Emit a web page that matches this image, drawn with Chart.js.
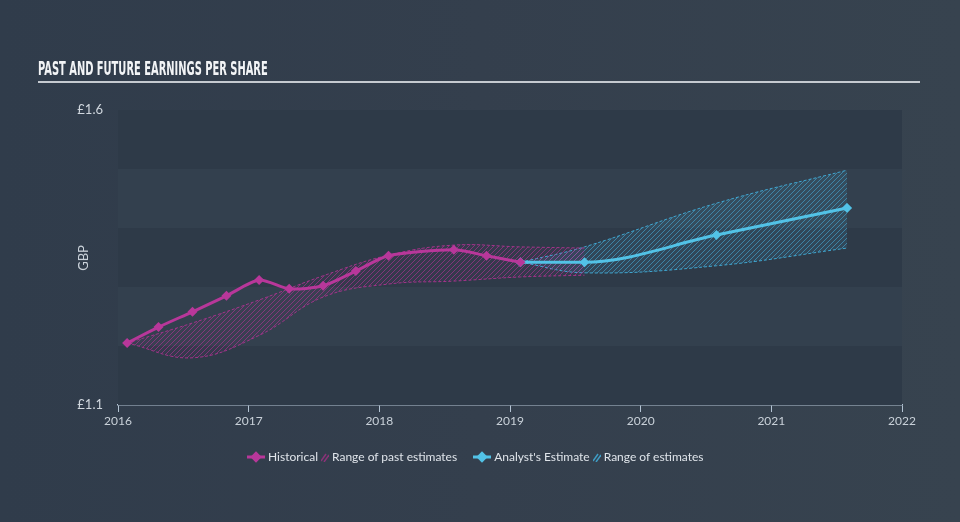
<!DOCTYPE html>
<html>
<head>
<meta charset="utf-8">
<script src="https://cdn.jsdelivr.net/npm/chart.js@4.4.1/dist/chart.umd.min.js"></script>
<style>
  html, body { margin: 0; padding: 0; }
  body {
    width: 960px; height: 522px; overflow: hidden; position: relative;
    background: linear-gradient(90deg, #303c4b 0%, #343f4d 50%, #37434f 100%);
    font-family: Lato, "Open Sans", sans-serif;
  }
  #chart { position: absolute; left: 0; top: 0; }
  .title {
    position: absolute; left: 38px; top: 56px;
    font-family: "Liberation Sans Narrow", "DejaVu Sans Condensed", sans-serif;
    font-weight: bold; font-size: 20px; color: #f2f4f6;
    transform-origin: left top; transform: scaleX(0.55);
    white-space: nowrap;
  }
  .rule { position: absolute; left: 38px; top: 81px; width: 882px; height: 1.5px; background: #c5cad0; }
  .gbp {
    position: absolute; left: 69px; top: 250px; width: 28px; text-align: center;
    transform: rotate(-90deg); color: #c9d1d9; font-size: 13px;
  }
  .legend {
    position: absolute; left: 247px; top: 449px; display: flex; align-items: center;
    color: #dfe4ea; font-size: 12px; white-space: nowrap;
  }
  .legend svg { margin-right: 3px; }
  .legend span { margin-right: 3px; }
</style>
</head>
<body>
<canvas id="chart" width="960" height="522"></canvas>
<div class="title">PAST AND FUTURE EARNINGS PER SHARE</div>
<div class="rule"></div>
<div class="gbp">GBP</div>
<div class="legend">
  <svg width="18" height="12"><line x1="0" y1="6" x2="18" y2="6" stroke="#b8379a" stroke-width="3"/><rect x="5" y="2" width="8" height="8" fill="#b8379a" transform="rotate(45 9 6)"/></svg>
  <span>Historical</span>
  <svg width="8" height="10"><line x1="0" y1="9" x2="5" y2="2" stroke="#8a3378" stroke-width="1.5"/><line x1="3" y1="10" x2="8" y2="3" stroke="#8a3378" stroke-width="1.5"/></svg>
  <span style="margin-right:16px">Range of past estimates</span>
  <svg width="18" height="12"><line x1="0" y1="6" x2="18" y2="6" stroke="#52c2e6" stroke-width="3"/><rect x="5" y="2" width="8" height="8" fill="#52c2e6" transform="rotate(45 9 6)"/></svg>
  <span>Analyst's Estimate</span>
  <svg width="8" height="10"><line x1="0" y1="9" x2="5" y2="2" stroke="#3f9cc4" stroke-width="1.5"/><line x1="3" y1="10" x2="8" y2="3" stroke="#3f9cc4" stroke-width="1.5"/></svg>
  <span>Range of estimates</span>
</div>
<script>
// ====================== DATOS ======================
const histYears = [2016.07, 2016.31, 2016.57, 2016.83, 2017.08, 2017.31, 2017.57, 2017.82, 2018.07, 2018.57, 2018.82, 2019.08];
const histEps   = [1.205, 1.232, 1.258, 1.285, 1.312, 1.297, 1.302, 1.327, 1.353, 1.363, 1.353, 1.342];

const pastYears = [2016.07, 2016.57, 2017.08, 2017.57, 2018.07, 2018.57, 2019.08, 2019.57];
const pastHigh  = [1.205, 1.239, 1.278, 1.319, 1.354, 1.371, 1.368, 1.366];
const pastLow   = [1.205, 1.180, 1.218, 1.283, 1.305, 1.310, 1.317, 1.320];

const estYears = [2019.08, 2019.57, 2020.58, 2021.58];
const estEps   = [1.342, 1.342, 1.388, 1.434];
const estHigh  = [1.342, 1.368, 1.442, 1.498];
const estLow   = [1.342, 1.324, 1.336, 1.366];

const yearTicks = [2016, 2017, 2018, 2019, 2020, 2021, 2022];
const yMin = 1.1, yMax = 1.6;

const MAGENTA = "#b8379a";
const BLUE    = "#52c2e6";

// ====================== UTILIDADES ======================
function pts(xs, ys) {
    return xs.map((x, i) => ({ x: x, y: ys[i] }));
}

function hatch(color, base) {
    const c = document.createElement("canvas");
    c.width = 5; c.height = 5;
    const g = c.getContext("2d");
    if (base) { g.fillStyle = base; g.fillRect(0, 0, 5, 5); }
    g.strokeStyle = color;
    g.lineWidth = 1;
    g.beginPath();
    g.moveTo(0, 5); g.lineTo(5, 0);
    g.moveTo(-1, 1); g.lineTo(1, -1);
    g.moveTo(4, 6); g.lineTo(6, 4);
    g.stroke();
    return g.createPattern(c, "repeat");
}

// Bandas horizontales alternas
const bandas = {
    id: "bandas",
    beforeDatasetsDraw(chart) {
        const { ctx, chartArea, scales } = chart;
        const ticks = scales.y.ticks;
        ctx.save();
        for (let i = 0; i < ticks.length - 1; i++) {
            const y1 = scales.y.getPixelForValue(ticks[i].value);
            const y2 = scales.y.getPixelForValue(ticks[i + 1].value);
            ctx.fillStyle = i % 2 === 0 ? "#2e3a48" : "#33404e";
            ctx.fillRect(chartArea.left, y2, chartArea.right - chartArea.left, y1 - y2);
        }
        ctx.restore();
    }
};

// ====================== GRÁFICO ======================
const rangeStyle = (color) => ({
    borderColor: color,
    borderWidth: 1,
    borderDash: [3, 2],
    pointRadius: 0,
    tension: 0.4,
    order: 2
});

new Chart(document.getElementById("chart").getContext("2d"), {
    type: "line",
    data: {
        datasets: [
            Object.assign({ label: "pastHigh", data: pts(pastYears, pastHigh), fill: false }, rangeStyle("#a2338a")),
            Object.assign({ label: "pastLow", data: pts(pastYears, pastLow), fill: "-1",
                backgroundColor: hatch("rgba(178,52,150,0.6)", "rgba(178,52,150,0.06)") }, rangeStyle("#a2338a")),
            Object.assign({ label: "estHigh", data: pts(estYears, estHigh), fill: false }, rangeStyle("#3fa6d0")),
            Object.assign({ label: "estLow", data: pts(estYears, estLow), fill: "-1",
                backgroundColor: hatch("rgba(70,170,215,0.6)", "rgba(70,170,215,0.12)") }, rangeStyle("#3fa6d0")),
            {
                label: "Historical",
                data: pts(histYears, histEps),
                borderColor: MAGENTA, backgroundColor: MAGENTA,
                borderWidth: 3, tension: 0.25,
                pointStyle: "rectRot", pointRadius: 5, pointBorderWidth: 0,
                order: 0
            },
            {
                label: "Analyst's Estimate",
                data: pts(estYears, estEps),
                borderColor: BLUE, backgroundColor: BLUE,
                borderWidth: 3, cubicInterpolationMode: "monotone",
                pointStyle: "rectRot", pointRadius: 5, pointBorderWidth: 0,
                order: 0
            }
        ]
    },
    options: {
        responsive: false,
        animation: false,
        layout: { padding: { left: 0, right: 58, top: 110, bottom: 87 } },
        plugins: { legend: { display: false }, tooltip: { enabled: false } },
        scales: {
            x: {
                type: "linear", min: 2016, max: 2022,
                afterBuildTicks: (s) => { s.ticks = yearTicks.map(v => ({ value: v })); },
                afterFit: (s) => { s.height = 30; },
                grid: { drawOnChartArea: false, drawTicks: true, tickLength: 7, color: "#b3c3d3", lineWidth: 1 },
                border: { display: true, color: "#b3c3d3", width: 1.5 },
                ticks: { color: "#c9d1d9", font: { family: "Lato", size: 12 }, padding: 2, maxRotation: 0,
                         callback: (v) => String(v) }
            },
            y: {
                min: yMin, max: yMax,
                afterFit: (s) => { s.width = 118; },
                grid: { display: false, drawTicks: false },
                border: { display: false },
                ticks: {
                    stepSize: 0.1, color: "#d0d7de", font: { family: "Lato", size: 13 }, padding: 15,
                    callback: (v) => (Math.abs(v - yMin) < 1e-6 || Math.abs(v - yMax) < 1e-6) ? "£" + v.toFixed(1) : ""
                }
            }
        }
    },
    plugins: [bandas]
});
</script>
</body>
</html>
